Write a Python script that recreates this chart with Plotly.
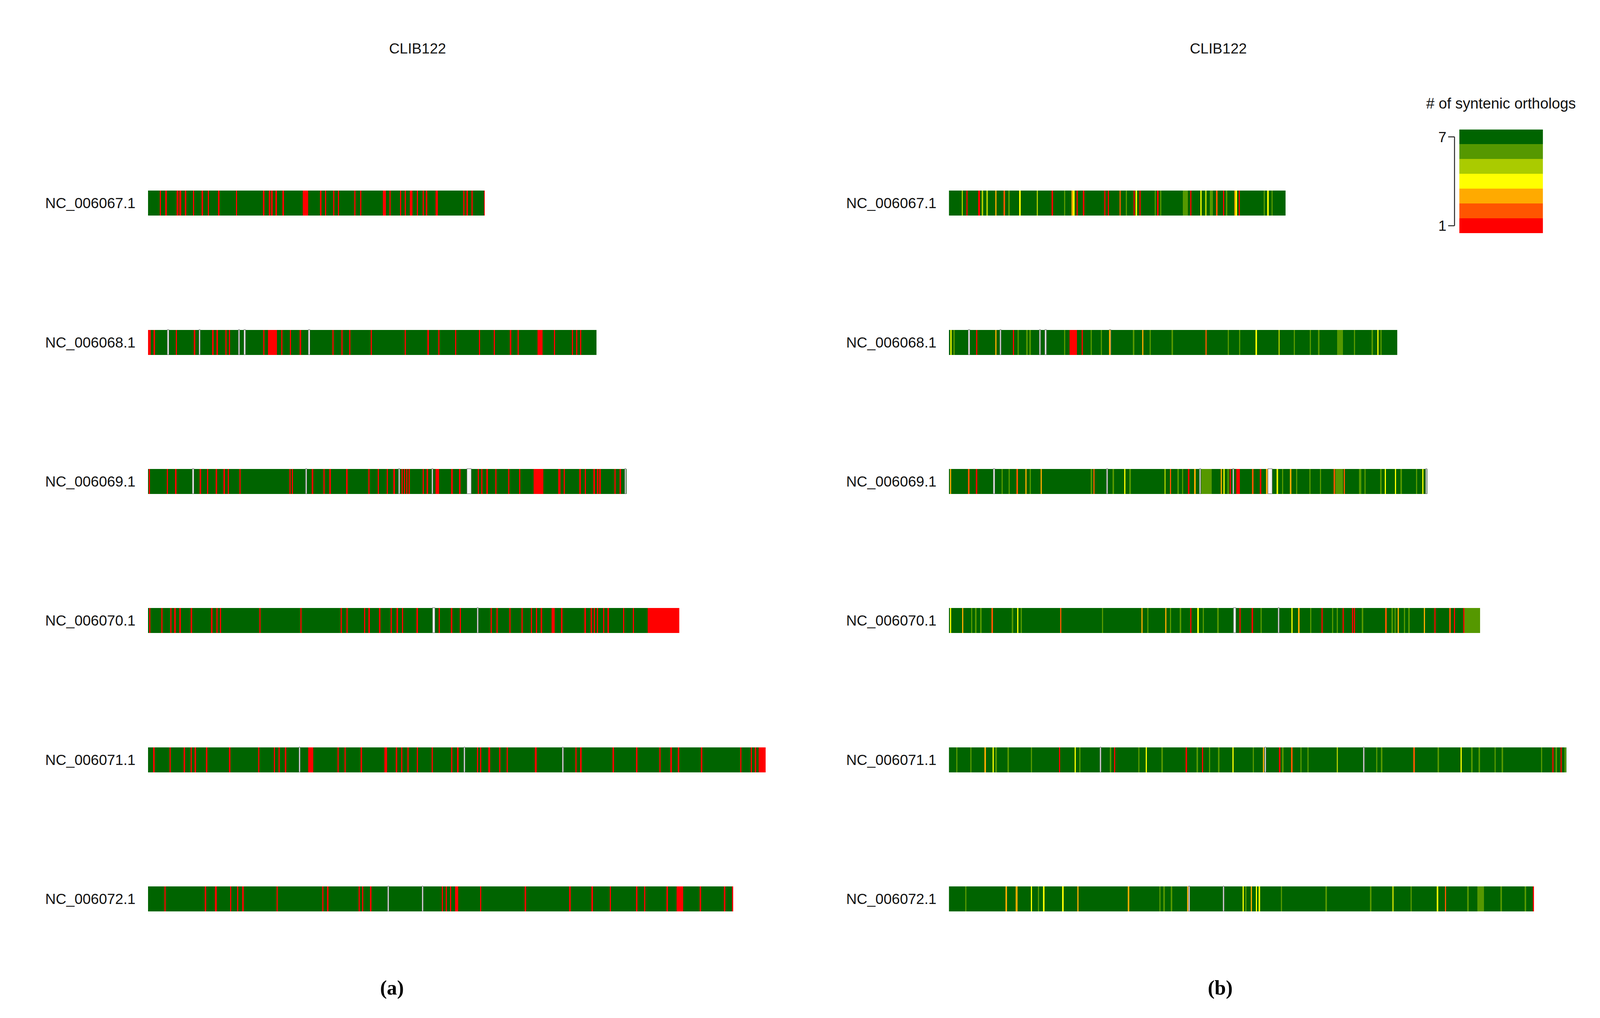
import plotly.graph_objects as go

# ---------------- data ----------------
chrom_names = ["NC_006067.1", "NC_006068.1", "NC_006069.1", "NC_006070.1", "NC_006071.1", "NC_006072.1"]
chrom_len_mb = [2.303, 3.066, 3.273, 3.633, 4.224, 4.003]
panel_titles = ["CLIB122", "CLIB122"]
panel_tags = ["(a)", "(b)"]
legend_title = "# of syntenic orthologs"
legend_values = [1, 2, 3, 4, 5, 6, 7]
legend_colors = ["#FF0000", "#FF5500", "#FFAA00", "#FFFF00", "#AACB00", "#559800", "#006400"]
STRIPE_W = 0.009  # default stripe width (Mb)

# panel (a): low-synteny stripes (start Mb, or (start, width))
left_A = [0.080, 0.118, (0.196, 0.012), (0.215, 0.012), 0.252, 0.307, 0.367, 0.408, 0.479, 0.601, 0.786,
          0.826, 0.842, (0.872, 0.010), 0.920, (1.058, 0.036), 1.176, 1.209, 1.265, 1.298, 1.410, 1.450,
          (1.606, 0.020), 1.650, 1.722, 1.755, (1.790, 0.018), 1.837, 1.877, 1.900, (1.965, 0.018),
          2.156, 2.178, 2.212, (2.297, 0.006)]
left_B = [(0.000, 0.020), 0.038, 0.190, (0.312, 0.012), 0.439, 0.468, 0.528, 0.553, 0.787, (0.821, 0.060),
          0.910, 0.970, 1.037, 1.260, 1.322, 1.376, 1.523, 1.755, 1.911, 1.984, 2.100, 2.263, 2.363,
          2.475, 2.527, (2.664, 0.035), 2.776, 2.898, 2.927, 2.954]
left_C = [0.005, 0.127, 0.185, 0.353, 0.403, 0.463, 0.516, 0.544, 0.624, 0.966, 0.983, 1.120, 1.199,
          1.240, 1.355, 1.506, 1.571, 1.631, 1.679, 1.734, 1.750, 1.766, 1.782, 1.878, 1.906,
          (1.966, 0.025), 2.074, 2.127, 2.254, 2.278, 2.314, 2.374, 2.463, 2.537, (2.638, 0.065),
          (2.806, 0.015), 2.842, 2.950, 2.986, 3.046, 3.070, 3.086, 3.189, 3.225]
left_D = [0.007, 0.091, 0.151, 0.180, 0.215, 0.292, 0.431, 0.467, 0.491, 0.761, 1.041, 1.316, 1.357,
          1.477, 1.508, 1.580, 1.659, 1.700, 1.736, 1.836, 1.987, 2.071, 2.131, 2.342, 2.383, 2.470,
          2.554, 2.617, 2.652, 2.686, (2.761, 0.020), 2.825, 2.985, 3.028, 3.047, 3.069, 3.112, 3.143,
          3.248, 3.315, (3.416, 0.217)]
left_E = [0.036, 0.147, 0.244, 0.291, 0.319, 0.396, 0.554, 0.753, 0.859, 0.892, 0.936, (1.094, 0.036),
          1.296, 1.343, 1.454, (1.615, 0.020), 1.695, 1.731, 1.773, 1.837, 1.939, 2.072, 2.114, 2.249,
          2.271, (2.327, 0.014), 2.402, 2.452, (2.645, 0.014), 2.922, 2.956, 3.177, 3.338, 3.496, 3.573,
          3.623, 3.781, 4.050, 4.122, 4.150, (4.175, 0.049)]
left_F = [0.111, 0.388, (0.457, 0.012), 0.560, 0.609, 0.645, 0.878, 1.191, 1.224, 1.440, 1.463, 1.518,
          2.008, 2.036, 2.064, (2.100, 0.020), 2.271, 2.576, 2.881, 3.033, 3.158, 3.338, 3.393, 3.546,
          (3.615, 0.045), 3.773, 3.939, 3.994]

# panel (b): (start Mb, # orthologs) or (start, value, width)
right_A = [(0.087, 5), (0.120, 1), (0.200, 1, 0.014), (0.225, 5), (0.257, 5), (0.317, 3), (0.375, 2),
           (0.407, 6), (0.482, 4), (0.600, 5), (0.703, 1), (0.787, 6), (0.840, 3), (0.850, 4), (0.873, 1),
           (0.917, 1), (1.062, 1), (1.087, 1), (1.167, 2), (1.210, 6), (1.263, 1), (1.278, 4), (1.303, 1),
           (1.407, 6), (1.425, 1), (1.445, 6), (1.600, 6, 0.035), (1.650, 1), (1.720, 4), (1.753, 5),
           (1.785, 6, 0.020), (1.828, 2), (1.875, 1), (1.895, 6), (1.953, 3), (1.962, 4), (1.982, 1),
           (2.153, 6), (2.178, 4), (2.207, 6)]
right_B = [(0.010, 4), (0.031, 6), (0.186, 1), (0.317, 3), (0.438, 1), (0.470, 6), (0.530, 6), (0.551, 6),
           (0.787, 6), (0.825, 1, 0.050), (0.908, 1), (0.969, 6), (1.038, 6), (1.096, 3), (1.259, 6),
           (1.322, 3), (1.372, 6), (1.524, 6), (1.754, 2), (1.907, 6), (1.984, 6), (2.098, 4), (2.255, 5),
           (2.359, 6), (2.468, 6), (2.525, 6), (2.656, 6, 0.040), (2.770, 6), (2.891, 6), (2.931, 4),
           (2.952, 6)]
right_C = [(0.007, 3), (0.132, 2), (0.185, 1), (0.360, 6), (0.408, 6), (0.463, 2), (0.523, 3), (0.552, 6),
           (0.628, 3), (0.971, 6), (0.988, 2), (1.120, 6), (1.199, 4), (1.235, 6), (1.475, 5), (1.511, 2),
           (1.564, 6), (1.595, 6), (1.636, 1), (1.679, 3), (1.727, 6, 0.072), (1.859, 3), (1.878, 4),
           (1.906, 6), (1.921, 1), (1.966, 1, 0.025), (2.074, 2), (2.127, 1), (2.170, 3), (2.242, 4),
           (2.278, 6), (2.333, 3), (2.374, 6), (2.465, 6), (2.537, 6), (2.632, 2), (2.645, 6, 0.050),
           (2.700, 2), (2.806, 6, 0.015), (2.842, 6), (2.950, 6), (2.981, 4), (3.050, 4), (3.089, 6),
           (3.194, 6), (3.237, 4)]
right_D = [(0.007, 4), (0.091, 3), (0.151, 6), (0.180, 6), (0.215, 6), (0.292, 2), (0.431, 6), (0.467, 4),
           (0.491, 6), (0.761, 2), (1.046, 6), (1.316, 3), (1.357, 6), (1.479, 3), (1.512, 6), (1.580, 6),
           (1.651, 1), (1.700, 4), (1.736, 6), (1.836, 6), (1.987, 1), (2.071, 1), (2.131, 6), (2.342, 4),
           (2.389, 3), (2.470, 6), (2.549, 1), (2.620, 6), (2.652, 6), (2.692, 1), (2.757, 1), (2.770, 1),
           (2.825, 6), (2.985, 2), (3.028, 6), (3.047, 6), (3.069, 3), (3.112, 6), (3.143, 6), (3.248, 3),
           (3.320, 1), (3.423, 2), (3.454, 1), (3.519, 1), (3.526, 6, 0.107)]
right_E = [(0.050, 6), (0.147, 6), (0.244, 3), (0.299, 4), (0.319, 6), (0.402, 6), (0.560, 6), (0.753, 1),
           (0.859, 4), (0.892, 6), (1.102, 6), (1.130, 1), (1.296, 6), (1.346, 4), (1.454, 6), (1.620, 1),
           (1.695, 6), (1.731, 1), (1.778, 6), (1.842, 6), (1.939, 4), (2.078, 6), (2.147, 3), (2.258, 1),
           (2.280, 6), (2.341, 2), (2.404, 6), (2.452, 6), (2.653, 5), (2.922, 6), (2.956, 6), (3.177, 2),
           (3.343, 6), (3.499, 4), (3.573, 6), (3.623, 6), (3.731, 6), (3.781, 6), (4.050, 6), (4.127, 1),
           (4.150, 6), (4.183, 1), (4.211, 6)]
right_F = [(0.111, 6), (0.388, 3), (0.457, 3, 0.012), (0.560, 4), (0.609, 6), (0.645, 4), (0.776, 4),
           (0.878, 3), (1.224, 3), (1.440, 6), (1.468, 6), (1.518, 6), (1.629, 3), (2.008, 4), (2.028, 6),
           (2.064, 3), (2.100, 4), (2.119, 4), (2.271, 6), (2.576, 6), (2.881, 6), (3.033, 5), (3.158, 6),
           (3.338, 4), (3.393, 2), (3.546, 6), (3.615, 6, 0.045), (3.773, 6), (3.939, 6), (3.994, 1)]

# unannotated gaps, shared by both panels (start Mb, or (start, width))
gaps_A = []
gaps_B = [0.134, 0.350, 0.620, 0.658, 1.099]
gaps_C = [0.305, 1.079, 1.715, 1.942, (2.182, 0.030), 3.261]
gaps_D = [(1.947, 0.016), 2.251]
gaps_E = [1.033, 2.161, 2.834]
gaps_F = [1.640, 1.875]

left_sets = [left_A, left_B, left_C, left_D, left_E, left_F]
right_sets = [right_A, right_B, right_C, right_D, right_E, right_F]
gap_sets = [gaps_A, gaps_B, gaps_C, gaps_D, gaps_E, gaps_F]

# ---------------- layout geometry (design pixels of a 5026 x 2607 canvas) ----------------
W, H = 5026, 2607
PX_PER_MB = 459.3
X_RANGE = 4.4
LEFT_X0, RIGHT_X0 = 465, 2981
ROW_PX = 356.9
TOP_ROW_PX = 519
BAR_PX = 64
y_top = -TOP_ROW_PX / ROW_PX
y_bot = y_top + H / ROW_PX
bar_w = BAR_PX / ROW_PX
color_of = dict(zip(legend_values, legend_colors))

LABEL_SIZE = 46
LEG_TICK_SIZE = 46
LEG_TITLE_SIZE = 47
TAG_SIZE = 64
ROW_STANDOFF = 38
LEG_STANDOFF = 39
GAP_LINE_W = 1.5
BRACKET_W = 3

fig = go.Figure()


def norm_simple(entries):
    out = []
    for e in entries:
        if isinstance(e, tuple):
            out.append(e)
        else:
            out.append((e, STRIPE_W))
    return out


gap_trace_idx = []
for p, (xa, ya) in enumerate([("x", "y"), ("x2", "y2")]):
    rows = list(range(len(chrom_names)))
    fig.add_trace(go.Bar(orientation="h", y=rows, x=chrom_len_mb, base=[0] * len(rows), width=bar_w,
                         marker=dict(color="#006400", line=dict(width=0)), xaxis=xa, yaxis=ya,
                         showlegend=False, hoverinfo="skip"))
    gy, gx, gb = [], [], []
    for r, gs in enumerate(gap_sets):
        for s, w in norm_simple(gs):
            gy.append(r); gx.append(w); gb.append(s)
    gap_trace_idx.append(len(fig.data))
    fig.add_trace(go.Bar(orientation="h", y=gy, x=gx, base=gb, width=bar_w,
                         marker=dict(color="#F4F4F4", line=dict(width=GAP_LINE_W, color="#707070")),
                         xaxis=xa, yaxis=ya, showlegend=False, hoverinfo="skip"))
    sy, sx, sb, sc = [], [], [], []
    if p == 0:
        for r, ss in enumerate(left_sets):
            for s, w in norm_simple(ss):
                sy.append(r); sx.append(w); sb.append(s); sc.append("#FF0000")
    else:
        for r, ss in enumerate(right_sets):
            for e in ss:
                s, v = e[0], e[1]
                w = e[2] if len(e) > 2 else STRIPE_W
                sy.append(r); sx.append(w); sb.append(s); sc.append(color_of[v])
    fig.add_trace(go.Bar(orientation="h", y=sy, x=sx, base=sb, width=bar_w,
                         marker=dict(color=sc, line=dict(width=0)), xaxis=xa, yaxis=ya,
                         showlegend=False, hoverinfo="skip"))

# legend colour key as a heatmap
n = len(legend_values)
cscale = []
for i, c in enumerate(legend_colors):
    cscale.append([i / n, c])
    cscale.append([(i + 1) / n, c])
fig.add_trace(go.Heatmap(z=[[v] for v in legend_values], y=legend_values, x=[0], colorscale=cscale,
                         zmin=0.5, zmax=n + 0.5, showscale=False, xaxis="x3", yaxis="y3", hoverinfo="skip"))

FONT = "Liberation Sans, Arial, sans-serif"
label_font = dict(family=FONT, size=LABEL_SIZE, color="#111111")


def xdom(x0):
    return [x0 / W, (x0 + X_RANGE * PX_PER_MB) / W]


yax_common = dict(domain=[0, 1], range=[y_bot, y_top], tickmode="array",
                  tickvals=list(range(len(chrom_names))), ticktext=chrom_names, showgrid=False,
                  zeroline=False, showline=False, ticks="", tickfont=label_font,
                  ticklabelstandoff=ROW_STANDOFF)
xax_common = dict(range=[0, X_RANGE], visible=False, showgrid=False, zeroline=False)

leg_x0, leg_x1 = 4584, 4847
leg_y0, leg_y1 = 330, 596
fig.update_layout(
    width=W, height=H, margin=dict(l=0, r=0, t=0, b=0),
    paper_bgcolor="white", plot_bgcolor="white", barmode="overlay", bargap=0,
    xaxis=dict(domain=xdom(LEFT_X0), anchor="y", **xax_common),
    yaxis=dict(anchor="x", **yax_common),
    xaxis2=dict(domain=xdom(RIGHT_X0), anchor="y2", **xax_common),
    yaxis2=dict(anchor="x2", **yax_common),
    xaxis3=dict(domain=[leg_x0 / W, leg_x1 / W], anchor="y3", visible=False),
    yaxis3=dict(domain=[1 - leg_y1 / H, 1 - leg_y0 / H], anchor="x3", range=[0.5, n + 0.5],
                tickmode="array", tickvals=[1, 7], ticktext=["1", "7"], showgrid=False, zeroline=False,
                showline=False, ticks="", tickfont=dict(family=FONT, size=LEG_TICK_SIZE, color="#111111"),
                ticklabelstandoff=LEG_STANDOFF),
)

# bracket next to colour key
bx = 4569 / W
bx0 = 4549 / W
for (x0, y0, x1, y1) in [(bx, 1, bx, 7), (bx0, 1, bx, 1), (bx0, 7, bx, 7)]:
    fig.add_shape(type="line", xref="paper", yref="y3", x0=x0, x1=x1, y0=y0, y1=y1,
                  line=dict(color="#222222", width=BRACKET_W))

fig.add_annotation(text=legend_title, xref="paper", yref="paper", x=4715 / W, y=1 - 263 / H,
                   xanchor="center", yanchor="middle", showarrow=False,
                   font=dict(family=FONT, size=LEG_TITLE_SIZE, color="#111111"))
for t, cx in zip(panel_titles, [1312, 3827]):
    fig.add_annotation(text=t, xref="paper", yref="paper", x=cx / W, y=1 - 122 / H, xanchor="center",
                       yanchor="middle", showarrow=False, font=label_font)
for t, cx in zip(panel_tags, [1231, 3833]):
    fig.add_annotation(text="<b>" + t + "</b>", xref="paper", yref="paper", x=cx / W, y=1 - 2532 / H,
                       xanchor="center", yanchor="middle", showarrow=False,
                       font=dict(family="Liberation Serif, DejaVu Serif, serif", size=TAG_SIZE,
                                 color="#000000"))

# fit the design canvas to the actual browser viewport (CSS pixels may differ from design pixels)
post_js = """
document.body.style.margin = '0';
document.body.style.overflow = 'hidden';
document.documentElement.style.overflow = 'hidden';
var gd = document.getElementById('{plot_id}');
var vw = window.innerWidth, vh = window.innerHeight;
var s = Math.min(vw / %d, vh / %d);
var upd = {width: vw, height: vh};
['yaxis', 'yaxis2', 'yaxis3'].forEach(function(a) {
  upd[a + '.tickfont.size'] = gd.layout[a].tickfont.size * s;
  upd[a + '.ticklabelstandoff'] = Math.round(gd.layout[a].ticklabelstandoff * vw / %d);
});
(gd.layout.annotations || []).forEach(function(an, i) {
  upd['annotations[' + i + '].font.size'] = an.font.size * s;
});
(gd.layout.shapes || []).forEach(function(sh, i) {
  upd['shapes[' + i + '].line.width'] = sh.line.width * s;
});
Plotly.restyle(gd, {'marker.line.width': %f * s}, %s);
Plotly.relayout(gd, upd);
""" % (W, H, W, GAP_LINE_W, str(gap_trace_idx))

fig.write_html("out.html", post_script=post_js, config={"displayModeBar": False})
